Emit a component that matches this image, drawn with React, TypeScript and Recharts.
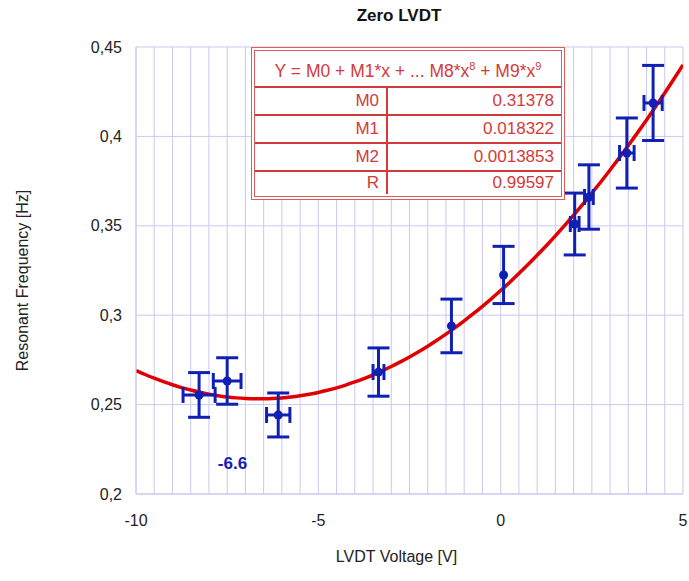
import React from "react";
import {
  ComposedChart,
  Line,
  Scatter,
  XAxis,
  YAxis,
  CartesianGrid,
  ErrorBar,
  ReferenceDot,
  Label,
} from "recharts";

// measurements: LVDT voltage [V] vs resonant frequency [Hz]
const voltage = [-8.27, -7.5, -6.1, -3.35, -1.35, 0.08, 2.03, 2.42, 3.46, 4.18];
const frequency = [0.2554, 0.2632, 0.2442, 0.2682, 0.294, 0.3225, 0.351, 0.3661, 0.3907, 0.4187];
const freqErr = [0.0125, 0.013, 0.0123, 0.0135, 0.015, 0.016, 0.0173, 0.018, 0.0196, 0.021];
const voltErr = [0.44, 0.38, 0.32, 0.15, null, null, 0.12, 0.12, 0.2, 0.25];

// quadratic fit coefficients and correlation
const coefNames = ["M0", "M1", "M2"];
const coefValues = [0.31378, 0.018322, 0.0013853];
const fitR = 0.99597;

const xTicks = Array.from({ length: 31 }, (_, i) => -10 + i * 0.5);
const yTicks = [0.2, 0.25, 0.3, 0.35, 0.4, 0.45];

const FONT = '"Liberation Sans", Arial, sans-serif';
const BLUE = "#1020b4";
const RED = "#e00000";
const TABLE_RED = "#d43a3a";
const GRID = "#c9c9f0";

const points = voltage.map((v, i) => ({
  x: v,
  y: frequency[i],
  ex: voltErr[i],
  ey: freqErr[i],
}));

const fit = (x: number) =>
  coefValues.reduce((sum, m, k) => sum + m * Math.pow(x, k), 0);

const curve = Array.from({ length: 61 }, (_, i) => {
  const x = -10 + i * 0.25;
  return { x, y: fit(x) };
});

// x of the parabola's minimum
const vertex = -coefValues[1] / (2 * coefValues[2]);

const tickStyle = { fontFamily: FONT, fontSize: 16, fill: "#222" };

function FitTable() {
  const rows = [
    ...coefNames.map((n, i) => [n, String(coefValues[i])]),
    ["R", String(fitR)],
  ];
  const cell: React.CSSProperties = {
    display: "flex",
    alignItems: "center",
    justifyContent: "flex-end",
    paddingRight: 7,
  };
  return (
    <div
      style={{
        position: "absolute",
        left: 251,
        top: 47,
        width: 314,
        height: 153,
        boxSizing: "border-box",
        border: "4px double #e05a5a",
        background: "#fff",
        color: TABLE_RED,
        fontFamily: FONT,
        fontSize: 17,
      }}
    >
      <div
        style={{
          height: 37,
          borderBottom: `2px solid ${TABLE_RED}`,
          display: "flex",
          alignItems: "center",
          justifyContent: "center",
          paddingTop: 4,
          boxSizing: "border-box",
          fontSize: 17.5,
        }}
      >
        <span>
          Y = M0 + M1*x + ... M8*x<sup style={{ fontSize: 11 }}>8</sup> + M9*x
          <sup style={{ fontSize: 11 }}>9</sup>
        </span>
      </div>
      {rows.map(([name, val], i) => (
        <div
          key={name}
          style={{
            display: "flex",
            height: i < rows.length - 1 ? 26 : 22,
            borderBottom: i < rows.length - 1 ? `2px solid ${TABLE_RED}` : "none",
          }}
        >
          <div style={{ ...cell, width: 124, borderRight: `2px solid ${TABLE_RED}` }}>
            {name}
          </div>
          <div style={{ ...cell, flex: 1 }}>{val}</div>
        </div>
      ))}
    </div>
  );
}

export default function App() {
  return (
    <div
      style={{
        position: "absolute",
        left: 0,
        top: 0,
        width: 689,
        height: 581,
        background: "#fff",
      }}
    >
      <div
        style={{
          position: "absolute",
          left: 0,
          width: 798,
          top: 6,
          textAlign: "center",
          fontFamily: FONT,
          fontWeight: "bold",
          fontSize: 17,
          color: "#111",
        }}
      >
        Zero LVDT
      </div>
      <ComposedChart
        width={689}
        height={581}
        margin={{ top: 47, right: 6, bottom: 0, left: 0 }}
        style={{ position: "absolute", left: 0, top: 0 }}
      >
        <CartesianGrid stroke={GRID} strokeWidth={1} />
        <XAxis
          type="number"
          dataKey="x"
          domain={[-10, 5]}
          ticks={xTicks}
          interval={0}
          tickFormatter={(v: number) => (v % 5 === 0 ? String(v) : "")}
          tick={tickStyle}
          tickSize={0}
          tickMargin={21}
          axisLine={{ stroke: GRID }}
          height={87}
          allowDataOverflow
        >
          <Label
            value="LVDT Voltage [V]"
            position="insideBottom"
            offset={19}
            dx={-13}
            style={{ fontFamily: FONT, fontSize: 16, fill: "#222" }}
          />
        </XAxis>
        <YAxis
          type="number"
          domain={[0.2, 0.45]}
          ticks={yTicks}
          interval={0}
          tickFormatter={(v: number) => String(v).replace(".", ",")}
          tick={tickStyle}
          tickSize={0}
          tickMargin={14}
          axisLine={{ stroke: GRID }}
          width={136}
          allowDataOverflow
        >
          <Label
            content={({ viewBox }: any) => (
              <text
                transform={`translate(28, ${viewBox.y + viewBox.height / 2 + 10}) rotate(-90)`}
                textAnchor="middle"
                style={{ fontFamily: FONT, fontSize: 16, fill: "#222" }}
              >
                Resonant Frequency [Hz]
              </text>
            )}
          />
        </YAxis>
        <Line
          data={curve}
          dataKey="y"
          type="monotone"
          stroke={RED}
          strokeWidth={3.5}
          dot={false}
          activeDot={false}
          isAnimationActive={false}
        />
        <Scatter
          data={points}
          dataKey="y"
          fill={BLUE}
          isAnimationActive={false}
          shape={(p: any) => <circle cx={p.cx} cy={p.cy} r={4.5} fill={BLUE} />}
        >
          <ErrorBar dataKey="ey" direction="y" width={11} stroke={BLUE} strokeWidth={3} />
          <ErrorBar dataKey="ex" direction="x" width={8} stroke={BLUE} strokeWidth={3} />
        </Scatter>
        <ReferenceDot
          x={vertex}
          y={0.2175}
          r={0}
          stroke="none"
          label={{
            value: vertex.toFixed(1),
            position: "center",
            dx: -27,
            style: { fontFamily: FONT, fontSize: 17, fontWeight: "bold", fill: BLUE },
          }}
        />
      </ComposedChart>
      <FitTable />
    </div>
  );
}
